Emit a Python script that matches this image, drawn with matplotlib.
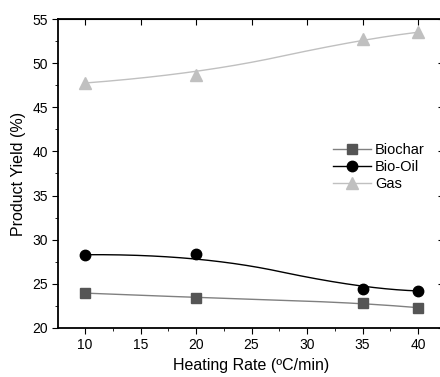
import numpy as np
import matplotlib.pyplot as plt
from matplotlib.ticker import MultipleLocator

plt.rcParams['font.family'] = ['Liberation Sans', 'DejaVu Sans']

# data
heating_rate = [10, 20, 35, 40]
biochar = [23.95, 23.45, 22.85, 22.3]
bio_oil = [28.3, 28.4, 24.4, 24.2]
gas = [47.75, 48.7, 52.75, 53.5]


def bspline(xs, ys, n=100):
    # clamped quadratic B-spline using the points as control points
    p = np.column_stack([xs, ys]).astype(float)
    out = []
    m = len(p)
    mids = [p[0]] + [(p[i] + p[i + 1]) / 2 for i in range(1, m - 2)] + [p[-1]]
    for i in range(m - 2):
        a, b, c = mids[i], p[i + 1], mids[i + 1]
        s = np.linspace(0, 1, n)[:, None]
        out.append((1 - s)**2 * a + 2 * s * (1 - s) * b + s**2 * c)
    out = np.vstack(out)
    return out[:, 0], out[:, 1]


fig = plt.figure(figsize=(4.4, 3.77), dpi=100)
ax = fig.add_axes([0.132, 0.13, 0.876, 0.8196])

series = [
    ('Biochar', biochar, 's', 6.5, '#555555', '#808080'),
    ('Bio-Oil', bio_oil, 'o', 7.5, '#000000', '#000000'),
    ('Gas', gas, '^', 8, '#c0c0c0', '#c0c0c0'),
]
for name, ys, m, ms, mc, lc in series:
    cx, cy = bspline(heating_rate, ys)
    ax.plot(cx, cy, color=lc, lw=1)
    ax.plot(heating_rate, ys, ls='none', marker=m, ms=ms, color=mc)
    ax.plot([], [], color=lc, lw=1, marker=m, ms=ms, mfc=mc, mec=mc, label=name)

ax.set_xlim(7.57, 42.3)
ax.set_ylim(20, 55)
ax.xaxis.set_major_locator(MultipleLocator(5))
ax.xaxis.set_minor_locator(MultipleLocator(2.5))
ax.yaxis.set_major_locator(MultipleLocator(5))
ax.yaxis.set_minor_locator(MultipleLocator(2.5))
ax.tick_params(which='both', direction='out', labelsize=10)
ax.tick_params(which='major', length=4)
ax.tick_params(which='minor', length=2)
# inward major ticks on top and right, as in the original
sec_x = ax.secondary_xaxis('top')
sec_x.xaxis.set_major_locator(MultipleLocator(5))
sec_x.tick_params(direction='in', length=4, labeltop=False)
sec_y = ax.secondary_yaxis('right')
sec_y.yaxis.set_major_locator(MultipleLocator(5))
sec_y.tick_params(direction='in', length=4, labelright=False)
for s in ax.spines.values():
    s.set_linewidth(1.3)

ax.set_xlabel('Heating Rate (ºC/min)', fontsize=11.5)
ax.set_ylabel('Product Yield (%)', fontsize=11.5)

ax.legend(loc='upper left', bbox_to_anchor=(0.68, 0.64), frameon=False,
          fontsize=10.5, handlelength=2.6, handletextpad=0.25, labelspacing=0.2)

fig.savefig('out.png', dpi=100)
